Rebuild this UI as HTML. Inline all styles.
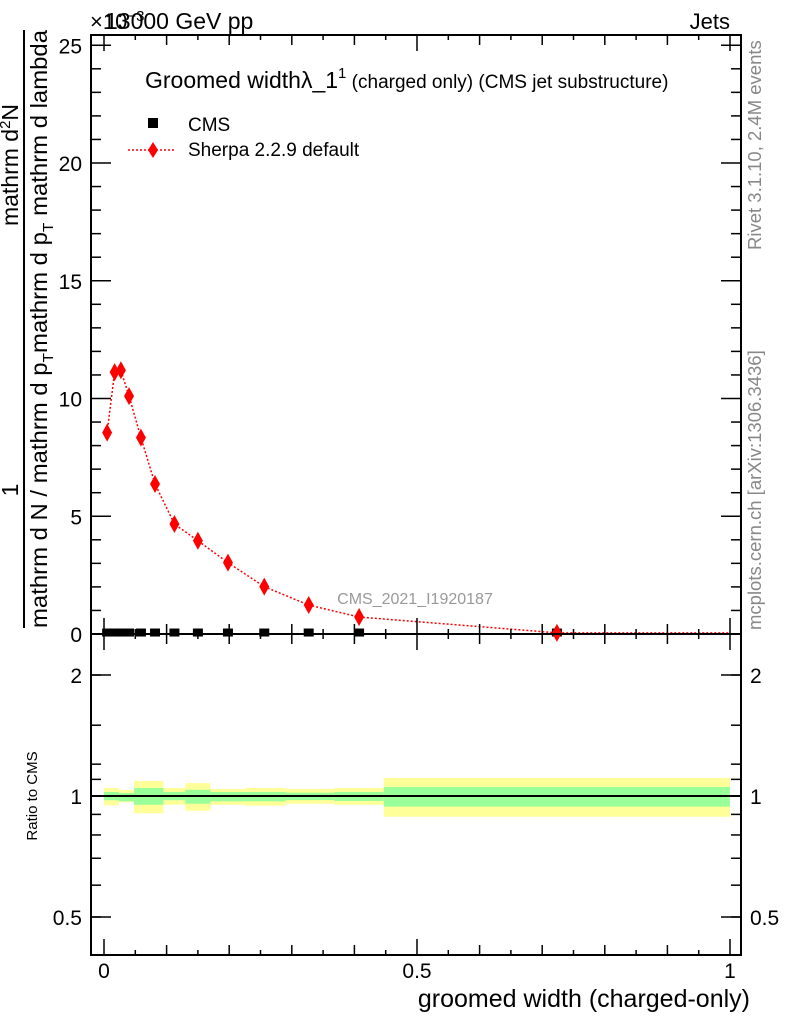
<!DOCTYPE html>
<html><head><meta charset="utf-8"><style>
html,body{margin:0;padding:0;background:#fff}
svg{display:block;font-family:"Liberation Sans",sans-serif}
</style></head><body>
<svg id="chart" width="786" height="1024" viewBox="0 0 786 1024" xmlns="http://www.w3.org/2000/svg">
<rect x="0" y="0" width="786" height="1024" fill="#fff"/>
<g id="bands"></g>
<g id="marks"></g>
<g id="axes"></g>
<rect x="91" y="35" width="650" height="599" fill="none" stroke="#000" stroke-width="2"/>
<rect x="91" y="634" width="650" height="321" fill="none" stroke="#000" stroke-width="2"/>
<text x="90" y="29" font-size="22">×10<tspan font-size="15" dy="-8">−3</tspan></text>
<text x="105" y="29" font-size="23">13000 GeV pp</text>
<text x="730" y="29" font-size="22" text-anchor="end">Jets</text>
<text x="145" y="88" font-size="23">Groomed widthλ_1<tspan font-size="15" dy="-10">1</tspan><tspan font-size="19" dy="10"> (charged only) (CMS jet substructure)</tspan></text>
<rect x="148" y="118" width="10" height="10" fill="#000"/>
<text x="188" y="131" font-size="19">CMS</text>
<line x1="128" y1="150" x2="176" y2="150" stroke="#f00" stroke-width="1.5" stroke-dasharray="2,2"/>
<path d="M153,142 L158,150 L153,158 L148,150 Z" fill="#f00"/>
<text x="188" y="156" font-size="19">Sherpa 2.2.9 default</text>
<text x="415" y="604" font-size="16" fill="#999" text-anchor="middle">CMS_2021_I1920187</text>
<text transform="translate(761,250) rotate(-90)" font-size="18.5" fill="#888">Rivet 3.1.10,  2.4M events</text>
<text transform="translate(761,630) rotate(-90)" font-size="18.5" fill="#888">mcplots.cern.ch [arXiv:1306.3436]</text>
<line x1="24" y1="30" x2="24" y2="628" stroke="#000" stroke-width="2"/>
<text transform="translate(18,490) rotate(-90)" font-size="23" text-anchor="middle">1</text>
<text transform="translate(18,165) rotate(-90)" font-size="23" text-anchor="middle">mathrm d<tspan font-size="15" dy="-8">2</tspan><tspan dy="8">N</tspan></text>
<text transform="translate(47,628) rotate(-90)" font-size="23" textLength="598" lengthAdjust="spacingAndGlyphs">mathrm d N / mathrm d p<tspan font-size="15" dy="6">T</tspan><tspan dy="-6">mathrm d p</tspan><tspan font-size="15" dy="6">T</tspan><tspan dy="-6"> mathrm d lambda</tspan></text>
<text transform="translate(37,796) rotate(-90)" font-size="15" text-anchor="middle">Ratio to CMS</text>
<text x="750" y="1007" font-size="25" text-anchor="end">groomed width (charged-only)</text>
</svg>
<script>
const binEdges=[0,0.01,0.024,0.03,0.05,0.068,0.095,0.13,0.17,0.226,0.286,0.368,0.447,1.0];
const sherpaVals=[8.55,11.12,11.2,10.1,8.34,6.37,4.67,3.96,3.03,2.01,1.23,0.72,0.05];
const cmsVals=[0.02,0.02,0.02,0.02,0.02,0.02,0.02,0.02,0.02,0.02,0.02,0.02,0.02];
const bandEdges=[0,0.024,0.048,0.095,0.13,0.17,0.226,0.29,0.368,0.447,1.0];
const greenUp=[1.023,1.017,1.047,1.023,1.036,1.023,1.023,1.019,1.023,1.053];
const greenDn=[0.976,0.970,0.951,0.976,0.957,0.970,0.970,0.977,0.972,0.941];
const yellowUp=[1.047,1.035,1.090,1.047,1.077,1.041,1.047,1.041,1.047,1.109];
const yellowDn=[0.948,0.965,0.906,0.951,0.919,0.951,0.946,0.957,0.951,0.888];
const xTicks=[0,0.5,1];
const xTickLabels=["0","0.5","1"];
const yTicks=[0,5,10,15,20,25];
const ratioTicks=[0.5,1,2];
const ratioTickLabels=["0.5","1","2"];

const NS="http://www.w3.org/2000/svg";
const X=v=>104+626*v;
const Y=v=>634-23.55*v;
const R=v=>796-121*Math.log2(v);
function mk(parent,tag,attrs){const e=document.createElementNS(NS,tag);for(const k in attrs)e.setAttribute(k,attrs[k]);parent.appendChild(e);return e;}
const bands=document.getElementById('bands'),marks=document.getElementById('marks'),axes=document.getElementById('axes');

for(let i=0;i<bandEdges.length-1;i++){
  const x0=X(bandEdges[i]),x1=Math.min(X(bandEdges[i+1]),740);
  const y=mk(bands,'rect',{x:x0,y:R(yellowUp[i]),width:x1-x0,height:R(yellowDn[i])-R(yellowUp[i]),fill:'#ffff99'});
  
  
  const g=mk(bands,'rect',{x:x0,y:R(greenUp[i]),width:x1-x0,height:R(greenDn[i])-R(greenUp[i]),fill:'#99ff99'});
  
  
}
const ref=mk(bands,'line',{x1:91,x2:741,y1:R(1),y2:R(1),stroke:'#000','stroke-width':2});



const centers=[];
for(let i=0;i<binEdges.length-1;i++)centers.push((binEdges[i]+binEdges[i+1])/2);
let pts=centers.map((c,i)=>X(c)+','+Y(sherpaVals[i]));
pts.push(X(1)+','+Y(sherpaVals[sherpaVals.length-1]));
const line=mk(marks,'polyline',{points:pts.join(' '),fill:'none',stroke:'#f00','stroke-width':1.5,'stroke-dasharray':'2,2'});


centers.forEach((c,i)=>{
  const sq=mk(marks,'rect',{x:X(c)-5,y:Y(cmsVals[i])-5,width:10,height:8,fill:'#000'});
  
  
});
centers.forEach((c,i)=>{
  const x=X(c),y=Y(sherpaVals[i]);
  const d=mk(marks,'path',{d:`M${x},${y-9} L${x+5},${y} L${x},${y+9} L${x-5},${y} Z`,fill:'#f00'});
  
  
});

function tick(x1,y1,x2,y2){const t=mk(axes,'line',{x1,y1,x2,y2,stroke:'#000','stroke-width':1.5});}
for(let k=0;k<=20;k++){const v=k*0.05,x=X(v);const L=(k%10===0)?16:(k%2===0?10:5);
  tick(x,634,x,634-L);tick(x,35,x,35+L);tick(x,955,x,955-L);tick(x,634,x,634+L);}
for(let v=0;v<=25;v++){const y=Y(v);const L=v%5===0?20:10;tick(91,y,91+L,y);tick(741,y,741-L,y);}
yTicks.forEach(v=>{const t=mk(axes,'text',{x:82,y:Y(v)+8,'font-size':21,'text-anchor':'end'});t.textContent=String(v);
  });
for(let k=5;k<=20;k++){const v=k/10;if(v>1.2)continue;const y=R(v);tick(91,y,101,y);tick(741,y,731,y);}
[1.5,2].forEach(v=>{const y=R(v);tick(91,y,101,y);tick(741,y,731,y);});
ratioTicks.forEach((v,i)=>{const y=R(v);tick(91,y,111,y);tick(741,y,721,y);
  const t=mk(axes,'text',{x:82,y:y+8,'font-size':21,'text-anchor':'end'});t.textContent=ratioTickLabels[i];
  
  const t2=mk(axes,'text',{x:750,y:y+8,'font-size':21});t2.textContent=ratioTickLabels[i];
  });
xTicks.forEach((v,i)=>{const t=mk(axes,'text',{x:X(v),y:978,'font-size':21,'text-anchor':'middle'});t.textContent=xTickLabels[i];
  });
</script>
</body></html>
